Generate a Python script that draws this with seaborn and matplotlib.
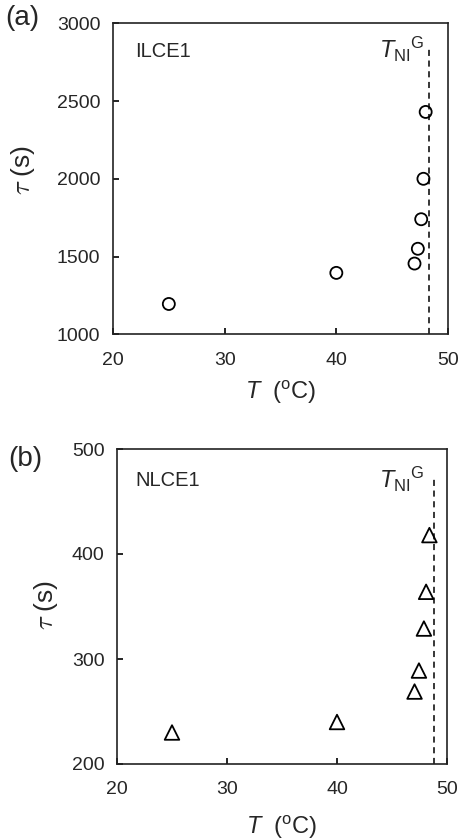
import matplotlib
matplotlib.use("Agg")
import matplotlib.pyplot as plt
import seaborn as sns
import pandas as pd

# ---- data ----
T_a = [25, 40, 47.0, 47.3, 47.6, 47.8, 48.0]
tau_a = [1195, 1395, 1455, 1550, 1740, 2000, 2430]
TNI_a = 48.3
TNI_a_top = 2835

T_b = [25, 40, 47.05, 47.45, 47.9, 48.1, 48.4]
tau_b = [230, 240, 269, 289, 329, 364, 418]
TNI_b = 48.8
TNI_b_top = 472

xticks = [20, 30, 40, 50]
yticks_a = [1000, 1500, 2000, 2500, 3000]
yticks_b = [200, 300, 400, 500]

sns.set_style("ticks")
plt.rcParams["font.family"] = ["Liberation Sans", "DejaVu Sans"]
plt.rcParams["mathtext.fontset"] = "custom"
plt.rcParams["mathtext.rm"] = "Liberation Sans"
plt.rcParams["mathtext.it"] = "Liberation Sans:italic"
plt.rcParams["mathtext.bf"] = "Liberation Sans:bold"

fig = plt.figure(figsize=(4.6, 8.4), dpi=100)
W, H = 460, 840
ax_a = fig.add_axes([113 / W, (H - 334.3) / H, 335 / W, 311 / H])
ax_b = fig.add_axes([117 / W, (H - 764) / H, 330 / W, 315 / H])

df_a = pd.DataFrame({"T": T_a, "tau": tau_a})
df_b = pd.DataFrame({"T": T_b, "tau": tau_b})

sns.scatterplot(data=df_a, x="T", y="tau", ax=ax_a, marker="o", s=75,
                facecolor="none", edgecolor="black", linewidth=1.3, zorder=3)
sns.scatterplot(data=df_b, x="T", y="tau", ax=ax_b, marker="^", s=110,
                facecolor="none", edgecolor="black", linewidth=1.3, zorder=3)

ax_a.vlines(TNI_a, yticks_a[0], TNI_a_top, colors="black", linestyles=(0, (4, 3)), linewidth=1.1)
ax_b.vlines(TNI_b, yticks_b[0], TNI_b_top, colors="black", linestyles=(0, (4, 3)), linewidth=1.1)

for ax, yt in ((ax_a, yticks_a), (ax_b, yticks_b)):
    ax.set_xlim(xticks[0], xticks[-1])
    ax.set_ylim(yt[0], yt[-1])
    ax.set_xticks(xticks)
    ax.set_yticks(yt)
    ax.tick_params(direction="in", length=4, width=1.2, labelsize=14, color="black")
    ax.tick_params(axis="x", pad=12.5)
    ax.tick_params(axis="y", pad=9)
    for sp in ax.spines.values():
        sp.set_visible(True)
        sp.set_linewidth(1.2)
        sp.set_color("#222222")
    ax.set_xlabel(r"$T$  ($^{\rm o}$C)", fontsize=17)
    ax.set_ylabel(r"$\tau$ (s)", fontsize=19, math_fontfamily="cm")

ax_a.yaxis.set_label_coords((37 - 113) / 335, 0.528)
ax_a.xaxis.set_label_coords(0.5, (334.3 - 379) / 311)
ax_b.yaxis.set_label_coords((60 - 117) / 330, 0.505)
ax_b.xaxis.set_label_coords(0.5, (764 - 814) / 315)

ax_a.text(0.066, 0.908, "ILCE1", transform=ax_a.transAxes, fontsize=14.5, va="center", ha="left")
ax_b.text(0.055, 0.90, "NLCE1", transform=ax_b.transAxes, fontsize=14.5, va="center", ha="left")

ax_a.text(0.931, 0.89, r"$T_{\rm NI}{}^{\rm G}$", transform=ax_a.transAxes, fontsize=17,
          va="baseline", ha="right")
ax_b.text(0.933, 0.876, r"$T_{\rm NI}{}^{\rm G}$", transform=ax_b.transAxes, fontsize=17,
          va="baseline", ha="right")

fig.text(5 / W, 1 - 18 / H, "(a)", fontsize=20, va="center", ha="left")
fig.text(8 / W, 1 - 459 / H, "(b)", fontsize=20, va="center", ha="left")

fig.savefig("out.png", dpi=100)
